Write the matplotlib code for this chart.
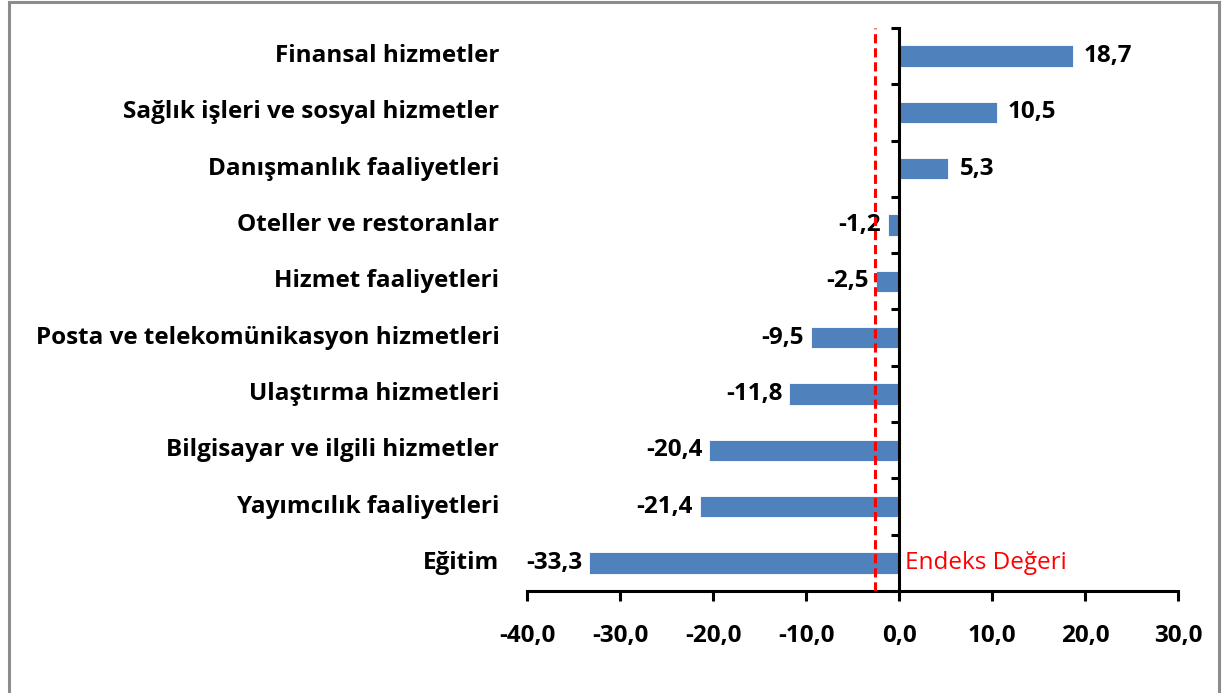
#!/usr/bin/env python3
import matplotlib
matplotlib.use("Agg")
import matplotlib.pyplot as plt
from matplotlib.patches import Rectangle

categories = [
    "Finansal hizmetler",
    "Sağlık işleri ve sosyal hizmetler",
    "Danışmanlık faaliyetleri",
    "Oteller ve restoranlar",
    "Hizmet faaliyetleri",
    "Posta ve telekomünikasyon hizmetleri",
    "Ulaştırma hizmetleri",
    "Bilgisayar ve ilgili hizmetler",
    "Yayımcılık faaliyetleri",
    "Eğitim",
]
values = [18.7, 10.5, 5.3, -1.2, -2.5, -9.5, -11.8, -20.4, -21.4, -33.3]
index_value = -2.6
index_label = "Endeks Değeri"
xticks = [-40, -30, -20, -10, 0, 10, 20, 30]

plt.rcParams.update({
    "font.family": ["Open Sans", "DejaVu Sans"],
    "font.size": 17,
})

bar_color = "#4F81BD"
fs = 17.5

fig = plt.figure(figsize=(12.22, 6.93), dpi=100)
# outer frame, open at the bottom edge of the image
fig.patches.append(Rectangle((9 / 1222, -0.05), 1210 / 1222, 1.05 - 2 / 693,
                             transform=fig.transFigure, fill=False,
                             edgecolor="#8c8c8c", linewidth=2.2))
ax = fig.add_axes([0.4313, 0.1472, 0.5327, 0.8124])

n = len(categories)
ypos = list(range(n))[::-1]
ax.barh(ypos, values, height=0.38, color=bar_color, edgecolor="white", linewidth=0.6, zorder=2)

ax.set_xlim(-40, 30)
ax.set_ylim(-0.5, n - 0.5)

for y, v in zip(ypos, values):
    lbl = f"{v:.1f}".replace(".", ",")
    if v >= 0:
        ax.annotate(lbl, (v, y), xytext=(8, 0), textcoords="offset points",
                    ha="left", va="center", fontsize=fs, fontweight="bold")
    else:
        ax.annotate(lbl, (v, y), xytext=(-5, 0), textcoords="offset points",
                    ha="right", va="center", fontsize=fs, fontweight="bold")

ax.axvline(index_value, color="#ff0000", linestyle=(0, (3, 1.6)), linewidth=2.2, zorder=3)
ax.annotate(index_label, (0, ypos[-1]), xytext=(4, 0), textcoords="offset points",
            ha="left", va="center", color="#ff0000", fontsize=fs)

# category labels placed left of the plot area
for y, c in zip(ypos, categories):
    ax.annotate(c, (-40, y), xytext=(-20, 0), textcoords="offset points",
                ha="right", va="center", fontsize=fs, fontweight="bold",
                annotation_clip=False)

# y axis spine at x=0, ticks at category boundaries
ax.spines["left"].set_position(("data", 0))
ax.spines["left"].set_linewidth(2.2)
ax.spines["bottom"].set_linewidth(2.2)
ax.spines["top"].set_visible(False)
ax.spines["right"].set_visible(False)
ax.set_yticks([i - 0.5 for i in range(n + 1)])
ax.set_yticklabels([])
ax.tick_params(axis="y", direction="out", length=6, width=2.2)

ax.set_xticks(xticks)
ax.set_xticklabels([f"{t:.1f}".replace(".", ",") for t in xticks], fontweight="bold", fontsize=fs)
ax.tick_params(axis="x", direction="out", length=7, width=2.2, pad=17)

fig.savefig("out.png", dpi=100)
